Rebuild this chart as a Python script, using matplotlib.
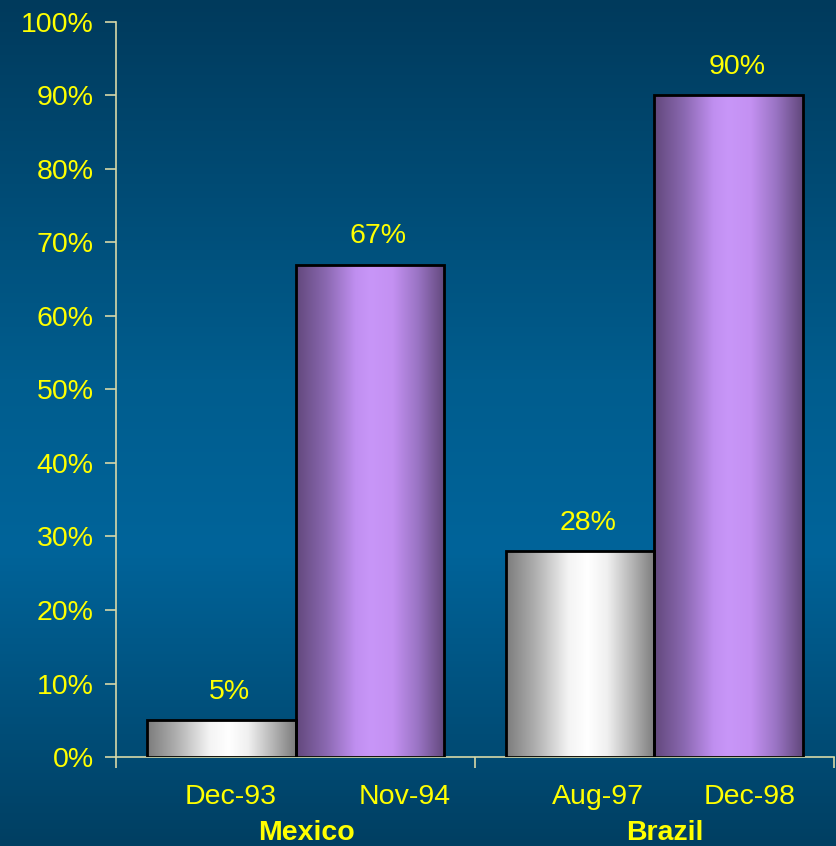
import numpy as np
import matplotlib.pyplot as plt
from matplotlib.colors import LinearSegmentedColormap
from matplotlib.transforms import blended_transform_factory

plt.rcParams['font.family'] = ['Liberation Sans', 'DejaVu Sans']

# data
countries = ['Mexico', 'Brazil']
periods_first = ['Dec-93', 'Aug-97']
periods_second = ['Nov-94', 'Dec-98']
share_first = [5, 28]
share_second = [67, 90]
yticks = list(range(0, 101, 10))

yellow = '#ffff00'
axis_col = '#d8d8a8'
fs = 20.5

fig = plt.figure(figsize=(8.37, 8.46), dpi=100)

# background gradient (dark navy -> blue -> dark)
bg = fig.add_axes([0, 0, 1, 1], zorder=-10)
bg_cmap = LinearSegmentedColormap.from_list(
    'bg', [(0.0, '#003a5c'), (0.45, '#005d8e'), (0.65, '#00649a'), (1.0, '#003f62')])
bg.imshow(np.linspace(0, 1, 256).reshape(-1, 1), cmap=bg_cmap,
          aspect='auto', extent=(0, 1, 0, 1), origin='upper')
bg.axis('off')

ax = fig.add_axes([0.1386, 0.1052, 0.8578, 0.8688])
ax.patch.set_alpha(0)

x = np.arange(len(countries))
w = 0.415
bars1 = ax.bar(x - w / 2, share_first, w, facecolor='none', edgecolor='black', linewidth=2, zorder=3)
bars2 = ax.bar(x + w / 2, share_second, w, facecolor='none', edgecolor='black', linewidth=2, zorder=3)

# cylinder-like shading for the bars
gray_cmap = LinearSegmentedColormap.from_list(
    'g', [(0, '#7c7c7c'), (0.2, '#b0b0b0'), (0.42, '#f4f4f4'), (0.55, '#ffffff'),
          (0.68, '#f0f0f0'), (0.85, '#b4b4b4'), (1, '#7c7c7c')])
purple_cmap = LinearSegmentedColormap.from_list(
    'p', [(0, '#62487c'), (0.2, '#8a68b0'), (0.4, '#c08ff0'), (0.5, '#c896f8'),
          (0.65, '#c491f2'), (0.82, '#9a74c4'), (1, '#62487c')])

grad = np.linspace(0, 1, 256).reshape(1, -1)
for bars, cmap in [(bars1, gray_cmap), (bars2, purple_cmap)]:
    for b in bars:
        im = ax.imshow(grad, cmap=cmap, aspect='auto', zorder=2,
                       extent=(b.get_x(), b.get_x() + b.get_width(), 0, b.get_height()))
        im.set_clip_path(b)

# value labels
for bars in [bars1, bars2]:
    for b in bars:
        ax.annotate(f'{b.get_height():.0f}%', (b.get_x() + b.get_width() / 2, b.get_height()),
                    xytext=(6, 11), textcoords='offset points', ha='center', va='bottom',
                    color=yellow, fontsize=fs)

ax.set_xlim(-0.5, len(countries) - 0.5)
ax.set_ylim(0, 100)
ax.set_yticks(yticks)
ax.set_yticklabels([f'{t}%' for t in yticks])
ax.set_xticks([-0.5, 0.5, 1.5])
ax.set_xticklabels([])
ax.tick_params(axis='y', colors=axis_col, labelcolor=yellow, labelsize=fs, length=8, width=1.2, pad=8)
ax.tick_params(axis='x', colors=axis_col, length=8, width=1.2)
for s in ['top', 'right']:
    ax.spines[s].set_visible(False)
for s in ['left', 'bottom']:
    ax.spines[s].set_color(axis_col)
    ax.spines[s].set_linewidth(1.2)

# category labels
trans = blended_transform_factory(ax.transData, ax.transAxes)
period_pos = [(-0.18, 'Dec-93'), (0.305, 'Nov-94'), (0.843, 'Aug-97'), (1.266, 'Dec-98')]
for px, lab in period_pos:
    ax.text(px, -0.054, lab, transform=trans, ha='center', va='center', color=yellow, fontsize=fs)
for gx, c in zip(x + np.array([0.032, 0.029]), countries):
    ax.text(gx, -0.104, c, transform=trans, ha='center', va='center', color=yellow,
            fontsize=fs, fontweight='bold')

fig.savefig('out.png', dpi=100)
